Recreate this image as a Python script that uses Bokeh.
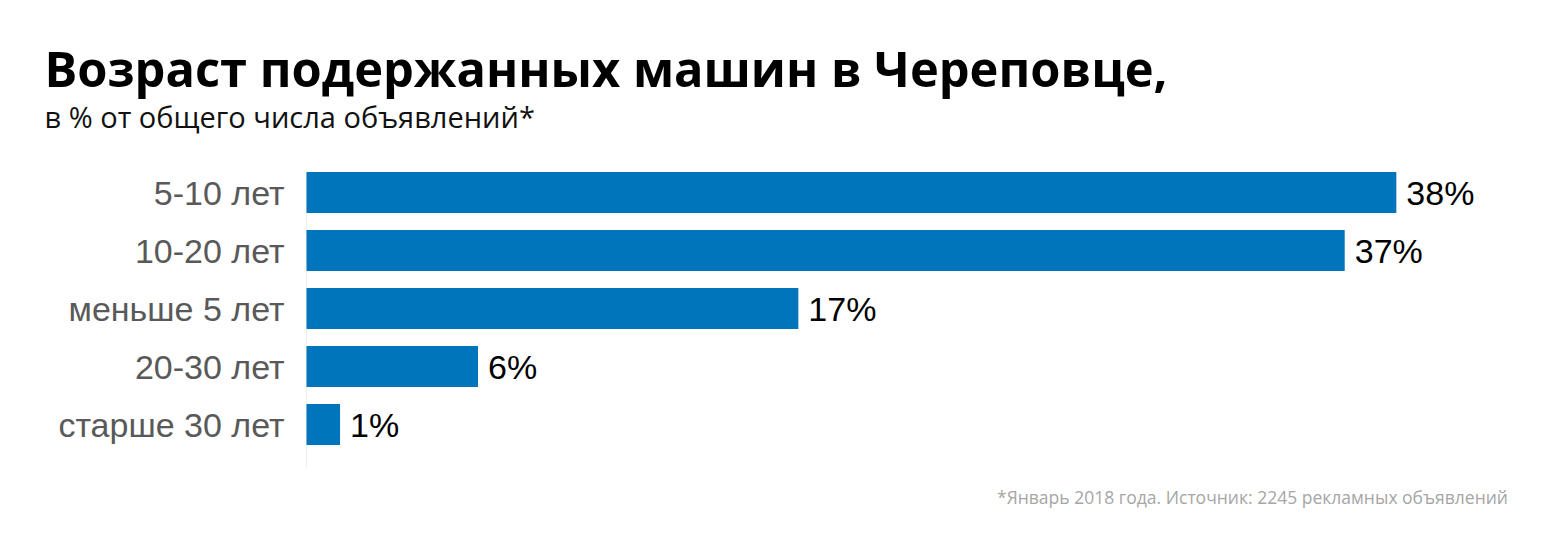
from bokeh.plotting import figure
from bokeh.models import Range1d, Label, ColumnDataSource
from bokeh.embed import file_html
from bokeh.resources import INLINE
from bokeh.core.properties import value

categories = ["5-10 лет", "10-20 лет", "меньше 5 лет", "20-30 лет", "старше 30 лет"]
shares = [38.0, 36.2, 17.15, 5.98, 1.17]
share_labels = ["38%", "37%", "17%", "6%", "1%"]

title_text = "Возраст подержанных машин в Череповце,"
subtitle_text = "в % от общего числа объявлений*"
footnote_text = "*Январь 2018 года.  Источник: 2245 рекламных объявлений"

# layout (pixels)
W, H = 1552, 542
zero_px = 306          # x pixel of the 0 % baseline
px_per_pct = 28.68
first_center_px = 192  # y pixel of the first bar's centre
px_per_row = 58

x0 = -zero_px / px_per_pct
x1 = (W - zero_px) / px_per_pct
y_top = -first_center_px / px_per_row
y_bot = (H - first_center_px) / px_per_row

pos = list(range(len(categories)))
src = ColumnDataSource(dict(y=pos, v=shares, lab=share_labels, cat=categories,
                            zero=[0] * len(pos)))

p = figure(width=W, height=H, output_backend="svg", toolbar_location=None,
           x_range=Range1d(x0, x1), y_range=Range1d(y_bot, y_top),
           min_border=0, min_border_left=0, min_border_right=0,
           min_border_top=0, min_border_bottom=0)
p.outline_line_color = None
p.grid.visible = False
p.axis.visible = False
p.background_fill_color = "white"
p.border_fill_color = "white"

# faint baseline (axis line)
axis_top = (172 - first_center_px) / px_per_row
axis_bot = (467 - first_center_px) / px_per_row
p.segment(x0=[0], y0=[axis_top], x1=[0], y1=[axis_bot],
          line_color="#eeeeee", line_width=1)

p.hbar(y="y", right="v", left=0, height=0.71, source=src,
       fill_color="#0175BB", line_color=None)

# value labels
p.text(x="v", y="y", text="lab", source=src, x_offset=10,
       text_font=value("Liberation Sans"), text_font_size="34px",
       text_color="#000000", text_baseline="middle", text_align="left")

# category labels
p.text(x="zero", y="y", text="cat", source=src, x_offset=-22,
       text_font=value("Liberation Sans"), text_font_size="34px",
       text_color="#595959", text_baseline="middle", text_align="right")

def add_text(px, py, txt, **kw):
    p.add_layout(Label(x=px, y=H - py, x_units="screen", y_units="screen",
                       text=txt, text_baseline="alphabetic", **kw))

add_text(44, 67, title_text, text_font="Open Sans", text_font_style="bold",
         text_font_size="48.8px", text_color="#000000", text_align="left")
add_text(44, 115.5, subtitle_text, text_font="Open Sans", text_font_size="29px",
         text_color="#111111", text_align="left")
add_text(1512, 496, footnote_text, text_font="Open Sans", text_font_size="17.5px",
         text_color="#a6a6a6", text_align="right")

open("out.html", "w").write(file_html(p, INLINE))
